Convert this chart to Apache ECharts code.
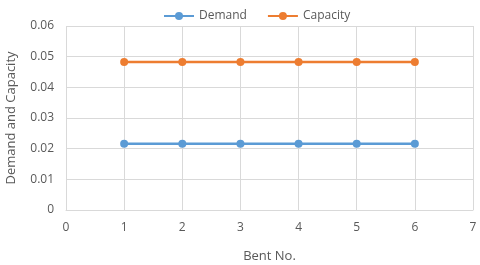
<!DOCTYPE html>
<html><head><meta charset="utf-8">
<script src="https://cdn.jsdelivr.net/npm/echarts@6/dist/echarts.min.js"></script>
<style>html,body{margin:0;padding:0;background:#fff}#c{width:480px;height:265px}</style>
</head><body><div id="c"></div>
<script>
var bentNo = [1, 2, 3, 4, 5, 6];
var demand = [0.0216, 0.0216, 0.0216, 0.0216, 0.0216, 0.0216];
var capacity = [0.0483, 0.0483, 0.0483, 0.0483, 0.0483, 0.0483];
var seriesNames = ['Demand', 'Capacity'];

var chart = echarts.init(document.getElementById('c'), null, {renderer: 'canvas'});
var font = 'Open Sans';
var txt = '#595959';
function pairs(xs, ys){ return xs.map(function(x,i){ return [x, ys[i]]; }); }
chart.setOption({
  animation: false,
  textStyle: {fontFamily: font},
  legend: {
    top: 5, left: 158, itemWidth: 30, itemHeight: 10, itemGap: 20,
    textStyle: {color: txt, fontSize: 12, fontFamily: font},
    data: seriesNames
  },
  grid: {left: 66, right: 7, top: 26, bottom: 55, containLabel: false, outerBoundsMode: 'none'},
  xAxis: {
    type: 'value', min: 0, max: 7, interval: 1,
    name: 'Bent No.', nameLocation: 'middle', nameGap: 40,
    nameTextStyle: {color: txt, fontSize: 13, fontFamily: font},
    axisLine: {show: true, lineStyle: {color: '#d9d9d9', width: 1}},
    axisTick: {show: false},
    axisLabel: {color: txt, fontSize: 12, margin: 12, fontFamily: font},
    splitLine: {show: true, lineStyle: {color: '#d9d9d9', width: 1}}
  },
  yAxis: {
    type: 'value', min: 0, max: 0.06, interval: 0.01,
    name: 'Demand and Capacity', nameLocation: 'middle', nameGap: 48,
    nameTextStyle: {color: txt, fontSize: 13, fontFamily: font},
    axisLine: {show: false}, axisTick: {show: false},
    axisLabel: {color: txt, fontSize: 12, margin: 12, fontFamily: font,
      formatter: function(v){ return v === 0 ? '0' : v.toFixed(2); }},
    splitLine: {show: true, lineStyle: {color: '#d9d9d9', width: 1}}
  },
  series: [
    {name: seriesNames[0], type: 'line', data: pairs(bentNo, demand),
     symbol: 'circle', symbolSize: 8, color: '#5B9BD5',
     lineStyle: {width: 2.5, color: '#5B9BD5'}, itemStyle: {color: '#5B9BD5'}},
    {name: seriesNames[1], type: 'line', data: pairs(bentNo, capacity),
     symbol: 'circle', symbolSize: 8, color: '#ED7D31',
     lineStyle: {width: 2.5, color: '#ED7D31'}, itemStyle: {color: '#ED7D31'}}
  ]
});
</script></body></html>
